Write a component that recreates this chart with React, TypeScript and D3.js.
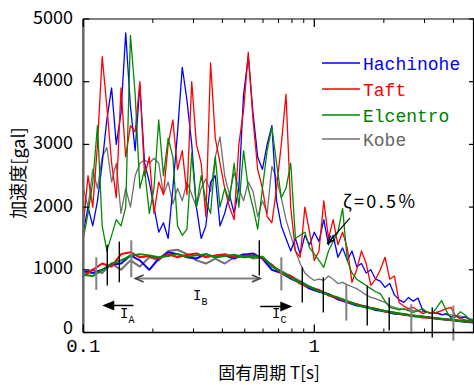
import React from "react";
import * as d3 from "d3";

// ---- data ----
const periods = [0.1, 0.1048, 0.1099, 0.1152, 0.1207, 0.1265, 0.1326, 0.1389, 0.1456, 0.1526,
  0.16, 0.1677, 0.1757, 0.1842, 0.1931, 0.2023, 0.2121, 0.2223, 0.233, 0.2442,
  0.2559, 0.2682, 0.2811, 0.2947, 0.3088, 0.3237, 0.3393, 0.3556, 0.3727, 0.3906,
  0.4094, 0.4291, 0.4498, 0.4714, 0.4941, 0.5179, 0.5428, 0.5689, 0.5963, 0.625,
  0.6551, 0.6866, 0.7197, 0.7543, 0.7906, 0.8286, 0.8685, 0.9103, 0.9541, 1.0,
  1.048, 1.099, 1.152, 1.207, 1.265, 1.326, 1.389, 1.456, 1.526, 1.6,
  1.677, 1.757, 1.842, 1.931, 2.023, 2.121, 2.223, 2.33, 2.442, 2.559,
  2.682, 2.811, 2.947, 3.088, 3.237, 3.393, 3.556, 3.727, 3.906, 4.094,
  4.291, 4.498, 4.714, 4.941];

const hachinoheUpper = [1600, 2000, 1700, 2100, 2700, 3400, 3900, 3000, 3500, 4780,
  3600, 2900, 3950, 2700, 2400, 2000, 1600, 1750, 1500, 2300,
  3200, 4230, 3700, 3000, 2000, 1500, 1700, 2400, 2500, 1700,
  1900, 2200, 1900, 2300, 3800, 4400, 3500, 2800, 2600, 3000,
  3300, 2100, 1700, 1500, 1300, 1500, 1250, 1550, 1400, 1600,
  1450, 1800, 1400, 1550, 1200, 1350, 1150, 1300, 1050, 1100,
  950, 1000, 850, 820, 720, 780, 600, 520, 480, 560,
  500, 550, 350, 320, 300, 320, 280, 300, 250, 270,
  230, 250, 200, 190];

const taftUpper = [1700, 2500, 2000, 3000, 4400, 3600, 2700, 2150, 3900, 2800,
  3300, 3200, 4000, 2500, 2800, 1900, 2400, 2200, 3000, 3390,
  2600, 2900, 2200, 4000, 3000, 2700, 1850, 4300, 3100, 2700,
  2300, 2000, 1800, 3000, 3550, 4470, 3400, 2600, 2300, 1850,
  1750, 2300, 3000, 3800, 2000, 1300, 1200, 2000, 1600, 1150,
  1300, 2100, 1500, 1800, 1400, 1600, 1350, 800, 1000, 1300,
  1100, 750, 850, 1000, 1200, 850, 900, 480, 420, 380,
  400, 350, 300, 330, 300, 320, 350, 380, 400, 260,
  220, 200, 180, 160];

const elcentroUpper = [1500, 1900, 2400, 3300, 1700, 1300, 1550, 1800, 1700, 2000,
  4740, 3800, 2300, 2600, 1900, 2300, 3390, 2500, 3100, 2800,
  1700, 1550, 1650, 2860, 2000, 2500, 2100, 1900, 2800, 2000,
  2300, 2100, 2700, 2000, 2900, 2300, 2000, 1650, 2300, 2900,
  3270, 2700, 2150, 2300, 2700, 1500, 1550, 1600, 1350, 1250,
  1150, 1040, 1300, 1450, 1600, 1980, 1150, 950, 850, 800,
  750, 700, 650, 620, 500, 400, 380, 360, 380, 350,
  320, 350, 380, 320, 300, 400, 510, 350, 220, 250,
  330, 280, 200, 180];

const kobeUpper = [2300, 2000, 2600, 2300, 2800, 2950, 2400, 2700, 1900, 2300,
  2000, 2500, 2700, 2750, 2700, 2780, 2700, 2200, 2400, 2050,
  2300, 2100, 2400, 2200, 2000, 2300, 2450, 2250, 2800, 3120,
  2500, 2200, 2550, 2300, 2100, 2400, 2250, 1850, 2100, 1900,
  2650, 2450, 2150, 1800, 1550, 1300, 1100, 950, 880, 830,
  850, 830, 900, 850, 780, 800, 760, 730, 700, 650,
  600, 560, 540, 510, 480, 430, 400, 380, 370, 360,
  350, 340, 330, 320, 310, 300, 290, 285, 280, 270,
  260, 240, 220, 200];

const lowPeriods = [0.1, 0.1099, 0.1207, 0.1326, 0.1456, 0.16, 0.1757, 0.1931, 0.2121, 0.233,
  0.2559, 0.2811, 0.3088, 0.3393, 0.3727, 0.4094, 0.4498, 0.4941, 0.5428, 0.5963,
  0.6551, 0.7197, 0.7906, 0.8685, 0.9541, 1.048, 1.152, 1.265, 1.389, 1.526,
  1.677, 1.842, 2.023, 2.223, 2.442, 2.682, 2.947, 3.237, 3.556, 3.906,
  4.291, 4.714, 4.941];

const hachinoheFit = [980, 950, 1000, 1080, 1100, 1230, 1150, 1000, 1180, 1280,
  1250, 1200, 1180, 1250, 1200, 1230, 1180, 1240, 1260, 1180,
  1000, 950, 860, 790, 700, 650, 610, 530, 480, 430,
  410, 360, 340, 300, 290, 260, 250, 230, 210, 200,
  180, 165, 160];
const taftFit = [900, 1000, 1100, 1050, 1250, 1280, 1200, 1220, 1180, 1250,
  1200, 1240, 1260, 1200, 1230, 1250, 1200, 1220, 1230, 1190,
  1080, 940, 900, 780, 720, 680, 590, 550, 490, 450,
  400, 380, 330, 320, 280, 270, 240, 235, 220, 195,
  190, 170, 165];
const elcentroFit = [920, 900, 1000, 1100, 1150, 1220, 1250, 1230, 1200, 1220,
  1250, 1210, 1230, 1250, 1200, 1220, 1240, 1200, 1210, 1210,
  1060, 970, 870, 800, 730, 660, 600, 560, 500, 440,
  400, 375, 345, 310, 295, 265, 255, 230, 215, 205,
  185, 175, 170];
const kobeFit = [950, 1000, 950, 1100, 1000, 1150, 1050, 1200, 1150, 1300,
  1320, 1250, 1150, 1100, 1180, 1100, 1200, 1250, 1180, 1200,
  1050, 980, 900, 820, 730, 670, 610, 545, 495, 450,
  410, 375, 345, 315, 290, 270, 250, 232, 215, 200,
  185, 170, 165];

const barPeriods = [0.1138, 0.127, 0.1432, 0.1613, 0.578, 0.72, 0.887, 1.094, 1.376, 1.695, 2.11, 2.63, 3.24, 4.0];
const barLow = [680, 750, 800, 880, 910, 670, 480, 320, 190, 110, 30, -20, -80, -130];
const barHigh = [1200, 1400, 1450, 1470, 1470, 1200, 1040, 880, 780, 750, 560, 450, 400, 430];
const barTone = ["g", "k", "k", "g", "k", "g", "k", "k", "g", "k", "k", "g", "k", "g"];

const seriesNames = ["Hachinohe", "Taft", "Elcentro", "Kobe"];
const seriesColors = ["#0000ff", "#ff0000", "#008a00", "#707070"];
const legendTextColors = ["#0000ff", "#ff0000", "#008000", "#666666"];
const upperSeries = [hachinoheUpper, taftUpper, elcentroUpper, kobeUpper];
const fitSeries = [hachinoheFit, taftFit, elcentroFit, kobeFit];

const yTicks = [0, 1000, 2000, 3000, 4000, 5000];
const xMajor = [0.1, 1];
const xMinor = [0.2, 0.3, 0.4, 0.5, 0.6, 0.7, 0.8, 0.9, 2, 3, 4];

const W = 474, H = 385;
const L = 83.3, R = 474, T = 19, B = 332.5;

const JP = "'Noto Sans CJK JP', 'Noto Sans', sans-serif";
const MONO = "'Liberation Mono', 'DejaVu Sans Mono', monospace";

export default function App() {
  const x = d3.scaleLog().domain([0.1, 4.913]).range([L, R]);
  const y = d3.scaleLinear().domain([0, 5000]).range([B, T]);

  const line = (ps: number[], vs: number[]) =>
    d3.line<number>().x((_, i) => x(ps[i])).y((v) => y(v))(vs) || "";

  const drawOrder = [3, 0, 1, 2];

  const arrowHead = (x1: number, y1: number, x2: number, y2: number, size: number, filled: boolean, color: string) => {
    const a = Math.atan2(y2 - y1, x2 - x1);
    const p1 = [x2 - size * Math.cos(a - 0.4), y2 - size * Math.sin(a - 0.4)];
    const p2 = [x2 - size * Math.cos(a + 0.4), y2 - size * Math.sin(a + 0.4)];
    if (filled) {
      return <polygon points={`${x2},${y2} ${p1[0]},${p1[1]} ${p2[0]},${p2[1]}`} fill={color} />;
    }
    return <polyline points={`${p1[0]},${p1[1]} ${x2},${y2} ${p2[0]},${p2[1]}`} fill="none" stroke={color} strokeWidth={1.6} />;
  };

  // annotation anchors in data units
  const iaFrom = [0.1647, 431], iaTo = [0.1208, 431];
  const ibFrom = [0.168, 862], ibTo = [0.583, 862];
  const icFrom = [0.583, 415], icTo = [0.803, 415];
  const zArrowFrom = [1.426, 1825], zArrowTo = [1.146, 1427];

  const subLabel = (tx: number, vy: number, sub: string) => (
    <text x={x(tx)} y={y(vy)} fontFamily={MONO} fill="#000">
      <tspan fontSize={14}>I</tspan>
      <tspan fontSize={10} dy={5}>{sub}</tspan>
    </text>
  );

  return (
    <svg width={W} height={H} style={{ position: "absolute", left: 0, top: 0, background: "#fff" }}>
      <defs>
        <clipPath id="plot">
          <rect x={L} y={T} width={R - L} height={B - T} />
        </clipPath>
      </defs>

      <g clipPath="url(#plot)">
        {drawOrder.map((i) => (
          <path key={"u" + i} d={line(periods, upperSeries[i])} fill="none" stroke={seriesColors[i]} strokeWidth={1.3} strokeLinejoin="round" />
        ))}
        {drawOrder.map((i) => (
          <path key={"f" + i} d={line(lowPeriods, fitSeries[i])} fill="none" stroke={seriesColors[i]} strokeWidth={2} strokeLinejoin="round" />
        ))}
      </g>

      {/* range bars */}
      {barPeriods.map((p, i) => (
        <line key={"b" + i} x1={x(p)} x2={x(p)} y1={y(barLow[i])} y2={y(barHigh[i])}
          stroke={barTone[i] === "k" ? "#000" : "#808080"} strokeWidth={barTone[i] === "k" ? 1.4 : 2} />
      ))}

      {/* axes frame */}
      <line x1={L} x2={R} y1={B} y2={B} stroke="#000" strokeWidth={1.5} />
      <line x1={L} x2={R} y1={T} y2={T} stroke="#000" strokeWidth={1.2} />
      <line x1={L} x2={L} y1={T} y2={B} stroke="#666" strokeWidth={2.5} />
      <line x1={R - 0.5} x2={R - 0.5} y1={T} y2={B} stroke="#000" strokeWidth={1.2} />

      {yTicks.map((t) => (
        <g key={"yt" + t}>
          <line x1={L} x2={L + 6} y1={y(t)} y2={y(t)} stroke="#000" strokeWidth={1.2} />
          <line x1={R - 5} x2={R} y1={y(t)} y2={y(t)} stroke="#000" strokeWidth={1.2} />
          <text x={73} y={y(t) + (t === 0 ? 1.5 : 4.5)} textAnchor="end" fontFamily={JP} fontSize={18} fill="#000">{t}</text>
        </g>
      ))}
      {xMajor.map((t) => (
        <g key={"xm" + t}>
          <line x1={x(t)} x2={x(t)} y1={B} y2={B - 8} stroke="#000" strokeWidth={1.3} />
          <line x1={x(t)} x2={x(t)} y1={T} y2={T + 8} stroke="#000" strokeWidth={1.3} />
          <text x={x(t)} y={352} textAnchor="middle" fontFamily={MONO} fontSize={19} fill="#000">{t === 0.1 ? "0.1" : "1"}</text>
        </g>
      ))}
      {xMinor.map((t) => (
        <g key={"xn" + t}>
          <line x1={x(t)} x2={x(t)} y1={B} y2={B - 4} stroke="#000" strokeWidth={1} />
          <line x1={x(t)} x2={x(t)} y1={T} y2={T + 4} stroke="#000" strokeWidth={1} />
        </g>
      ))}

      {/* axis titles */}
      <text transform={`translate(25,${173}) rotate(-90)`} textAnchor="middle" fontFamily={JP} fontSize={18} fill="#000">加速度[gal]</text>
      <text x={269} y={379} textAnchor="middle" fontFamily={JP} fontSize={17} fill="#000">固有周期 T[s]</text>

      {/* legend */}
      {seriesNames.map((n, i) => {
        const ly = [63, 89, 115, 139][i];
        return (
          <g key={"lg" + n}>
            <line x1={322} x2={360} y1={ly} y2={ly} stroke={seriesColors[i]} strokeWidth={1.3} />
            <text x={363} y={ly + 6.5} fontFamily={MONO} fontSize={18} fill={legendTextColors[i]}>{n}</text>
          </g>
        );
      })}

      {/* I_A */}
      <line x1={x(iaFrom[0])} x2={x(iaTo[0]) + 8} y1={y(iaFrom[1])} y2={y(iaTo[1])} stroke="#000" strokeWidth={1.5} />
      {arrowHead(x(iaFrom[0]), y(iaFrom[1]), x(iaTo[0]), y(iaTo[1]), 13, true, "#000")}
      {subLabel(0.1442, 231, "A")}

      {/* I_B */}
      <line x1={x(ibFrom[0])} x2={x(ibTo[0])} y1={y(ibFrom[1])} y2={y(ibTo[1])} stroke="#808080" strokeWidth={2} />
      {arrowHead(x(ibTo[0]), y(ibTo[1]), x(ibFrom[0]), y(ibFrom[1]), 9, false, "#444")}
      {arrowHead(x(ibFrom[0]), y(ibFrom[1]), x(ibTo[0]), y(ibTo[1]), 9, false, "#444")}
      {subLabel(0.2985, 518, "B")}

      {/* I_C */}
      <line x1={x(icFrom[0])} x2={x(icTo[0]) - 8} y1={y(icFrom[1])} y2={y(icTo[1])} stroke="#000" strokeWidth={1.5} />
      {arrowHead(x(icFrom[0]), y(icFrom[1]), x(icTo[0]), y(icTo[1]), 13, true, "#000")}
      {subLabel(0.656, 231, "C")}

      {/* damping note */}
      <text x={x(1.331)} y={y(1985)} fontFamily={JP} fontSize={18} fill="#000" textLength={72} lengthAdjust="spacing">ζ=0.5%</text>
      <line x1={x(zArrowFrom[0])} x2={x(zArrowTo[0])} y1={y(zArrowFrom[1])} y2={y(zArrowTo[1])} stroke="#000" strokeWidth={1.2} />
      {arrowHead(x(zArrowFrom[0]), y(zArrowFrom[1]), x(zArrowTo[0]), y(zArrowTo[1]), 8, false, "#000")}
    </svg>
  );
}
